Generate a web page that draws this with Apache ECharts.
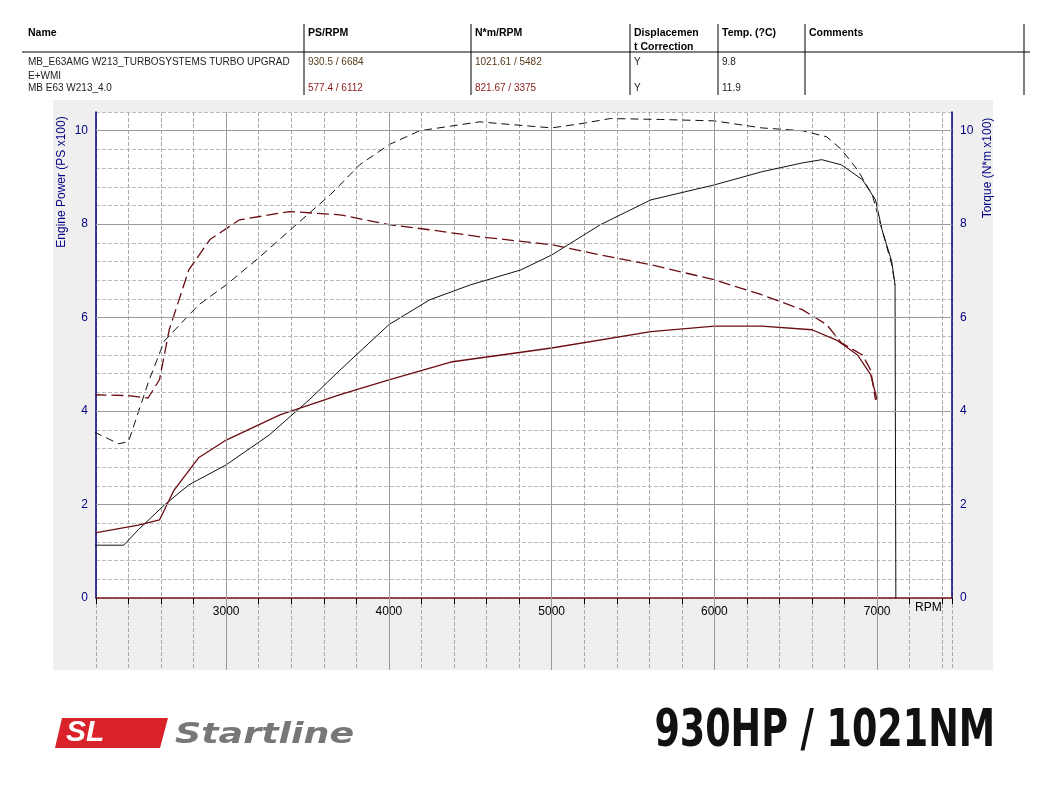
<!DOCTYPE html>
<html><head><meta charset="utf-8">
<script src="https://cdn.jsdelivr.net/npm/echarts@6/dist/echarts.min.js"></script>
<style>html,body{margin:0;background:#fff}#c{width:1052px;height:800px}</style>
</head><body><div id="c"></div>
<script>
const tunedTorqueRpm=[2190,2340,2400,2525,2620,2830,3000,3200,3450,3640,3820,4000,4190,4560,4685,5000,5180,5360,5670,6000,6290,6540,6690,6780,6880,6970,7030,7090,7110];
const tunedTorque=[3.55,3.3,3.35,4.65,5.5,6.27,6.7,7.28,8.05,8.63,9.27,9.7,10.0,10.19,10.15,10.06,10.15,10.26,10.24,10.21,10.06,10.0,9.87,9.6,9.16,8.63,7.88,7.13,6.7];
const tunedPowerRpm=[2190,2370,2460,2620,2770,3000,3265,3510,3700,4000,4250,4500,4810,5000,5300,5610,6000,6290,6540,6660,6780,6910,6990,7030,7090,7110,7115];
const tunedPower=[1.13,1.13,1.46,1.99,2.42,2.85,3.49,4.24,4.88,5.85,6.38,6.7,7.02,7.34,7.99,8.52,8.84,9.12,9.31,9.38,9.27,8.95,8.52,7.88,7.2,6.7,0];
const stockTorqueRpm=[2190,2400,2520,2590,2650,2770,2900,3080,3390,3700,4000,4250,4560,5000,5300,5610,6000,6290,6540,6690,6780,6910,6960,6990];
const stockTorque=[4.35,4.33,4.28,4.67,5.74,7.02,7.67,8.09,8.27,8.2,7.99,7.88,7.73,7.56,7.34,7.13,6.81,6.49,6.17,5.85,5.46,5.2,4.88,4.24];
const stockPowerRpm=[2190,2460,2590,2680,2830,3000,3330,3700,4000,4380,5000,5610,6000,6290,6600,6750,6880,6960,7000];
const stockPower=[1.39,1.56,1.67,2.31,3.0,3.38,3.92,4.35,4.67,5.05,5.35,5.7,5.82,5.82,5.74,5.52,5.2,4.78,4.24];
const xTickLabels=['3000','4000','5000','6000','7000'];
const yTickLabels=['0','2','4','6','8','10'];
const headers=['Name','PS/RPM','N*m/RPM','Displacemen\nt Correction','Temp. (?C)','Comments'];
const row1=['MB_E63AMG W213_TURBOSYSTEMS TURBO UPGRAD\nE+WMI','930.5 / 6684','1021.61 / 5482','Y','9.8',''];
const row2=['MB E63 W213_4.0','577.4 / 6112','821.67 / 3375','Y','11.9',''];
const colX=[28,308,475,634,722,809];

const z=(a,b)=>a.map((v,i)=>[v,b[i]]);
const ch=echarts.init(document.getElementById('c'));
const gr=[];
gr.push({type:'rect',shape:{x:53,y:100,width:940,height:570},style:{fill:'#efefef'},z:-10});
headers.forEach((t,i)=>gr.push({type:'text',x:colX[i],y:26,style:{text:t,font:'bold 10.5px Arial',fill:'#000',lineHeight:14}}));
[1,2,3,4,5].forEach(i=>gr.push({type:'line',shape:{x1:colX[i]-4,y1:24,x2:colX[i]-4,y2:95},style:{stroke:'#000',lineWidth:1}}));
gr.push({type:'line',shape:{x1:1024,y1:24,x2:1024,y2:95},style:{stroke:'#000'}});
gr.push({type:'line',shape:{x1:22,y1:52,x2:1030,y2:52},style:{stroke:'#000'}});
row1.forEach((t,i)=>gr.push({type:'text',x:colX[i],y:55,style:{text:t,font:'10px Arial',fill:(i==1||i==2)?'#5a3a1a':'#222',lineHeight:14}}));
row2.forEach((t,i)=>gr.push({type:'text',x:colX[i],y:83,style:{text:t,font:'10px Arial',fill:(i==1||i==2)?'#8b1a1a':'#222'}}));
gr.push({type:'text',x:915,y:602,style:{text:'RPM',font:'12px Arial',fill:'#000'}});
gr.push({type:'text',x:62,y:182,rotation:Math.PI/2,style:{text:'Engine Power (PS x100)',font:'12px Arial',fill:'#000080',align:'center',verticalAlign:'middle'}});
gr.push({type:'text',x:988,y:168,rotation:Math.PI/2,style:{text:'Torque (N*m x100)',font:'12px Arial',fill:'#000080',align:'center',verticalAlign:'middle'}});
gr.push({type:'group',x:995,y:758,scaleX:0.78,children:[{type:'text',x:0,y:0,style:{text:'930HP / 1021NM',font:'bold 52px "DejaVu Sans Condensed","Liberation Sans Narrow",sans-serif',fill:'#111',align:'right',verticalAlign:'bottom'}}]});
gr.push({type:'polygon',shape:{points:[[62,718],[168,718],[160,748],[55,748]]},style:{fill:'#d9222a'}});
gr.push({type:'text',x:66,y:718,style:{text:'SL',font:'italic bold 30px Arial',fill:'#fff'}});
gr.push({type:'group',x:175,y:722,scaleX:1.3,children:[{type:'text',x:0,y:0,style:{text:'Startline',font:'italic bold 28px "DejaVu Sans",Arial',fill:'#777'}}]});

const base={type:'line',showSymbol:false,smooth:false,animation:false};
ch.setOption({
 animation:false,
 graphic:gr,
 grid:[{left:96,right:100,top:112,bottom:202,show:true,backgroundColor:'#fff',borderWidth:0,outerBoundsMode:'none',containLabel:false},
       {left:96,right:100,top:598,bottom:130,show:false,outerBoundsMode:'none',containLabel:false}],
 xAxis:[{type:'value',min:2200,max:7460,interval:200,gridIndex:0,
   axisLine:{lineStyle:{color:'#7a1010',width:1.5}},axisTick:{length:6,lineStyle:{color:'#000'}},
   axisLabel:{color:'#000',fontSize:12,formatter:v=>xTickLabels.includes(String(v))?String(v):''},
   splitLine:{show:true,lineStyle:{color:'#aaa',type:'dashed'}}},
  {type:'value',min:2200,max:7460,interval:200,gridIndex:1,axisLine:{show:false},axisTick:{show:false},axisLabel:{show:false},
   splitLine:{show:true,lineStyle:{color:'#aaa',type:'dashed'}}}],
 yAxis:[{type:'value',min:0,max:10.4,interval:0.4,gridIndex:0,
   axisLine:{show:true,lineStyle:{color:'#000080',width:1.5}},axisTick:{show:false},
   axisLabel:{color:'#000080',fontSize:12,formatter:v=>{const s=String(Math.round(v*10)/10);return yTickLabels.includes(s)?s:'';}},
   splitLine:{lineStyle:{color:'#bbb',type:'dashed'}}},
  {type:'value',min:0,max:10.4,interval:0.4,gridIndex:0,position:'right',
   axisLine:{show:true,lineStyle:{color:'#000080',width:1.5}},axisTick:{show:false},
   axisLabel:{color:'#000080',fontSize:12,formatter:v=>{const s=String(Math.round(v*10)/10);return yTickLabels.includes(s)?s:'';}},
   splitLine:{show:false}},
  {type:'value',min:0,max:1,gridIndex:1,show:false}],
 series:[
  {...base,xAxisIndex:0,yAxisIndex:0,data:[],markLine:{silent:true,symbol:'none',label:{show:false},lineStyle:{color:'#999',type:'solid',width:1},
    data:[3000,4000,5000,6000,7000].map(v=>({xAxis:v})).concat([2,4,6,8,10].map(v=>({yAxis:v})))}},
  {...base,xAxisIndex:1,yAxisIndex:2,data:[],markLine:{silent:true,symbol:'none',label:{show:false},lineStyle:{color:'#999',type:'solid',width:1},
    data:[3000,4000,5000,6000,7000].map(v=>({xAxis:v}))}},
  {...base,name:'tuned torque',xAxisIndex:0,yAxisIndex:1,data:z(tunedTorqueRpm,tunedTorque),lineStyle:{color:'#111',width:1,type:[8,5]}},
  {...base,name:'tuned power',xAxisIndex:0,yAxisIndex:0,data:z(tunedPowerRpm,tunedPower),lineStyle:{color:'#111',width:1}},
  {...base,name:'stock torque',xAxisIndex:0,yAxisIndex:1,data:z(stockTorqueRpm,stockTorque),lineStyle:{color:'#6b0d12',width:1.3,type:[12,5]}},
  {...base,name:'stock power',xAxisIndex:0,yAxisIndex:0,data:z(stockPowerRpm,stockPower),lineStyle:{color:'#6b0d12',width:1.3}}
 ]
});
</script></body></html>
